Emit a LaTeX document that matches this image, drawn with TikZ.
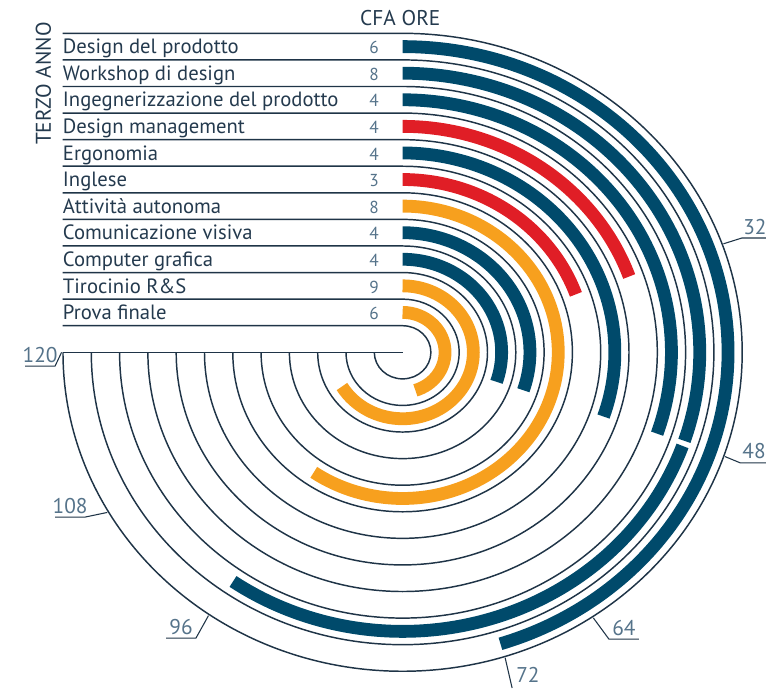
\documentclass[tikz,border=0pt]{standalone}
\usepackage{fontspec}
\setmainfont{PT Sans}
\usetikzlibrary{positioning}
\definecolor{navy}{HTML}{1F3447}
\definecolor{ink}{HTML}{243A4E}
\definecolor{slate}{HTML}{55738A}
\definecolor{barblue}{HTML}{004A6B}
\definecolor{barred}{HTML}{E01E26}
\definecolor{barorange}{HTML}{F7A01E}

\begin{document}
\begin{tikzpicture}[x=21.225pt,y=19.935pt,
	track/.style={navy,line width=1.1pt},
	bar/.style={line width=9.6pt},
	course/.style={anchor=base west,inner sep=0pt,ink,font=\fontsize{15.5}{17}\selectfont},
	credits/.style={anchor=base,inner sep=0pt,slate,font=\fontsize{13}{15}\selectfont},
	head/.style={anchor=base,inner sep=0pt,ink,font=\fontsize{16}{18}\selectfont},
	tick/.style={navy,line width=0.8pt},
	hours/.style={anchor=base,inner sep=0pt,slate,font=\fontsize{16}{18}\selectfont}]
	\useasboundingbox (-14.226,-12.630) rectangle (12.841,13.254);

	% binari
	\draw[track] (-12.01,0) -- (0,0);
	\foreach \k in {1,...,12}
		\draw[track] (-12.01,\k) -- (0,\k) arc[start angle=90,end angle=-180,radius=\k];

	% intestazione
	\node[rotate=90,inner sep=0pt,ink,font=\fontsize{16}{18}\selectfont] (anno) at (-12.69,10.11) {TERZO ANNO};
	\node[head] (cfa) at (-0.87,12.28) {CFA};
	\node[head,base right=4pt of cfa] (ore) {ORE};

	% corsi
	\foreach \i/\name/\cfa/\col/\stop in {
		1/Design del prodotto/6/barblue/-72.5,
		2/Workshop di design/8/barblue/-18.5,
		3/Ingegnerizzazione del prodotto/4/barblue/-18.8,
		4/Design management/4/barred/19.6,
		5/Ergonomia/4/barblue/-18.8,
		6/Inglese/3/barred/19.6,
		7/Attività autonoma/8/barorange/-124.8,
		8/Comunicazione visiva/4/barblue/-18.5,
		9/Computer grafica/4/barblue/-18.5,
		10/Tirocinio R\&S/9/barorange/-149,
		11/Prova finale/6/barorange/-72.5}
	{
		\node[course] (c\i) at (-12.01,{12.23-\i}) {\name};
		\node[credits] (n\i) at (-1.01,{12.23-\i}) {\cfa};
		\draw[bar,\col] (0,{12.5-\i}) arc[start angle=90,end angle=\stop,radius={12.5-\i}];
	}
	% seconda parte del workshop
	\draw[bar,barblue] (-19.6:10.5) arc[start angle=-19.6,end angle=-124.8,radius=10.5];

	% scala delle ore
	\foreach \h/\ang/\kx/\ky/\dir/\tx in {
		32/19.8/11.99/4.30/1/12.45,
		48/-19/11.93/-4.16/1/12.42,
		64/-56/7.29/-10.79/1/7.82,
		96/-124.7/-7.30/-10.75/-1/-7.83,
		108/-150/-11.22/-6.20/-1/-11.75,
		120/-180/-12.28/-0.52/-1/-12.81}
	{
		\coordinate (a\h) at (\ang:12.05);
		\coordinate (k\h) at (\kx,\ky);
		\draw[tick] (a\h) -- (k\h) -- ++({\dir*1.06},0) coordinate (e\h);
		\node[hours] (h\h) at (\tx,{\ky+0.15}) {\h};
	}
	\coordinate (a72) at (-72.5:12.05);
	\coordinate (k72) at (3.87,-12.63);
	\draw[tick] (a72) -- (k72);
	\node[hours] (h72) at (4.43,-12.44) {72};
\end{tikzpicture}
\end{document}
